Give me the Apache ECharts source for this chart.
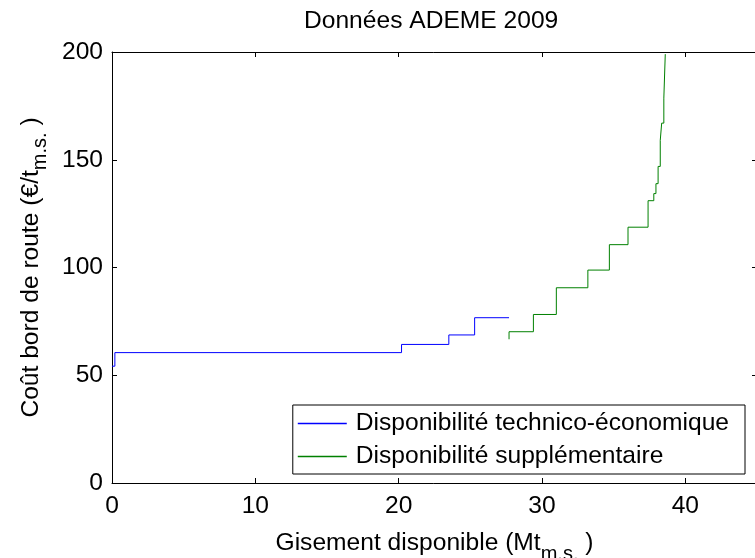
<!DOCTYPE html>
<html>
<head>
<meta charset="utf-8">
<script src="https://cdn.jsdelivr.net/npm/echarts@6/dist/echarts.min.js"></script>
<style>
html,body{margin:0;padding:0;background:#fff;}
#chart{width:755px;height:558px;}
</style>
</head>
<body>
<div id="chart"></div>
<script>
// Data (step curves: x = cumulative supply, y = cost)
const blueX = [0, 0.2, 20.2, 23.5, 25.3, 27.7];
const blueY = [54.2, 60.5, 64.3, 68.7, 76.7, 76.7];
const greenX = [27.7, 27.7, 29.4, 31.0, 33.2, 34.7, 36.0, 37.4, 37.8, 37.95, 38.1, 38.25, 38.35, 38.5, 38.6];
const greenY = [66.7, 70.2, 78.2, 90.6, 98.8, 110.6, 118.7, 131, 134.3, 138.9, 146.9, 159, 167, 178.6, 199];
const seriesNames = ['Disponibilité technico-économique', 'Disponibilité supplémentaire'];
const xTicks = [0, 10, 20, 30, 40];
const yTicks = [0, 50, 100, 150, 200];

const pairs = (xs, ys) => xs.map((x, i) => [x, ys[i]]);
const FONT = 'Liberation Sans, Arial, sans-serif';
const FS = 24.6;

const chart = echarts.init(document.getElementById('chart'), null, {renderer: 'canvas'});

const axisCommon = {
  axisLine: {show: true, onZero: false, lineStyle: {color: '#000', width: 1}},
  axisTick: {show: true, inside: true, length: 5, lineStyle: {color: '#000'}},
  splitLine: {show: false}
};

chart.setOption({
  animation: false,
  backgroundColor: '#fff',
  title: {
    text: 'Données ADEME 2009',
    left: 304, top: 9, padding: 0,
    textStyle: {fontFamily: FONT, fontSize: FS, fontWeight: 'normal', color: '#000'}
  },
  grid: {left: 112, top: 52, width: 645, height: 431, containLabel: false, outerBoundsMode: 'none'},
  legend: {
    orient: 'vertical',
    right: 10, bottom: 84,
    backgroundColor: '#fff',
    borderColor: '#000', borderWidth: 1, borderRadius: 0,
    padding: [6, 16, 5, 5],
    icon: 'rect',
    itemWidth: 49, itemHeight: 1.5, itemGap: 8,
    textStyle: {fontFamily: FONT, fontSize: FS, color: '#000', padding: [0, 0, 0, 4]},
    data: seriesNames
  },
  xAxis: [
    Object.assign({
      type: 'value', min: 0, max: 45, interval: 10, position: 'bottom',
      axisLabel: {fontFamily: FONT, fontSize: FS, color: '#000', margin: 11,
        formatter: v => xTicks.includes(v) ? String(v) : ''},
      name: '{a|Gisement disponible (Mt}{s|m.s.}{a| )}',
      nameLocation: 'middle', nameGap: 40,
      nameTextStyle: {rich: {
        a: {fontFamily: FONT, fontSize: FS, color: '#000'},
        s: {fontFamily: FONT, fontSize: 20, color: '#000', padding: [21, 0, 0, 0]}
      }}
    }, axisCommon),
    Object.assign({
      type: 'value', min: 0, max: 45, interval: 10, position: 'top',
      axisLabel: {show: false}
    }, axisCommon)
  ],
  yAxis: [
    Object.assign({
      type: 'value', min: 0, max: 200, interval: 50, position: 'left',
      axisLabel: {fontFamily: FONT, fontSize: FS, color: '#000', margin: 9,
        formatter: v => yTicks.includes(v) ? String(v) : ''},
      name: '{a|Coût bord de route (€/t}{s|m.s.}{a| )}',
      nameLocation: 'middle', nameRotate: 90, nameGap: 62,
      nameTextStyle: {rich: {
        a: {fontFamily: FONT, fontSize: FS, color: '#000'},
        s: {fontFamily: FONT, fontSize: 20, color: '#000', padding: [18, 0, 0, 0]}
      }}
    }, axisCommon),
    Object.assign({
      type: 'value', min: 0, max: 200, interval: 50, position: 'right',
      axisLabel: {show: false}
    }, axisCommon)
  ],
  series: [
    {
      name: seriesNames[0], type: 'line', step: 'end',
      data: pairs(blueX, blueY),
      showSymbol: false, symbol: 'none',
      lineStyle: {color: '#0000ff', width: 1},
      itemStyle: {color: '#0000ff'}
    },
    {
      name: seriesNames[1], type: 'line', step: 'end',
      data: pairs(greenX, greenY),
      showSymbol: false, symbol: 'none',
      lineStyle: {color: '#008000', width: 1},
      itemStyle: {color: '#008000'}
    }
  ]
});
</script>
</body>
</html>
